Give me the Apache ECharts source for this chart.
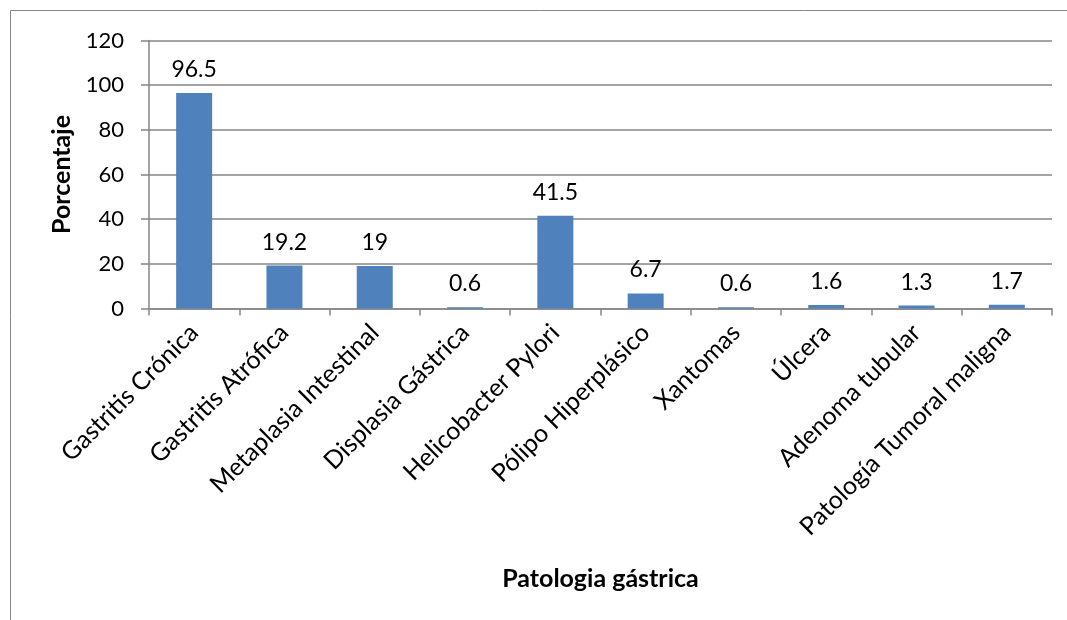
<!DOCTYPE html>
<html>
<head>
<meta charset="utf-8">
<script src="https://cdn.jsdelivr.net/npm/echarts@6/dist/echarts.min.js"></script>
<style>
  html, body { margin: 0; padding: 0; background: #fff; }
  #chart { width: 1067px; height: 620px; }
</style>
</head>
<body>
<div id="chart"></div>
<script>
// Pathology categories and their percentages
const categories = [
  'Gastritis Crónica', 'Gastritis Atrófica', 'Metaplasia Intestinal',
  'Displasia Gástrica', 'Helicobacter Pylori', 'Pólipo Hiperplásico',
  'Xantomas', 'Úlcera', 'Adenoma tubular', 'Patología Tumoral maligna'
];
const percentages = [96.5, 19.2, 19, 0.6, 41.5, 6.7, 0.6, 1.6, 1.3, 1.7];
const yTicks = { min: 0, max: 120, step: 20 };

const FONT = 'Lato, "Open Sans", sans-serif';
const AXIS_GRAY = '#868686';

const chart = echarts.init(document.getElementById('chart'), null, { renderer: 'canvas' });
chart.setOption({
  animation: false,
  backgroundColor: '#ffffff',
  graphic: [{
    type: 'rect',
    shape: { x: 10.5, y: 10.5, width: 1200, height: 800 },
    style: { fill: 'none', stroke: AXIS_GRAY, lineWidth: 1 },
    silent: true,
    z: -1
  }],
  grid: { left: 149, right: 15, top: 40.5, bottom: 311.5, containLabel: false },
  xAxis: {
    type: 'category',
    data: categories,
    name: 'Patologia gástrica',
    nameLocation: 'middle',
    nameGap: 258,
    nameTextStyle: { fontFamily: FONT, fontSize: 25, fontWeight: 'bold', color: '#000' },
    axisLine: { lineStyle: { color: AXIS_GRAY, width: 1.5 } },
    axisTick: { show: true, alignWithLabel: false, length: 7, lineStyle: { color: AXIS_GRAY, width: 1.5 } },
    axisLabel: {
      rotate: 45, interval: 0, margin: 20,
      fontFamily: FONT, fontSize: 25, color: '#000'
    }
  },
  yAxis: {
    type: 'value',
    min: yTicks.min, max: yTicks.max, interval: yTicks.step,
    name: 'Porcentaje',
    nameLocation: 'middle',
    nameGap: 72,
    nameRotate: 90,
    nameTextStyle: { fontFamily: FONT, fontSize: 25, fontWeight: 'bold', color: '#000' },
    axisLine: { show: true, lineStyle: { color: AXIS_GRAY, width: 1.5 } },
    axisTick: { show: true, length: 8, lineStyle: { color: AXIS_GRAY, width: 1.5 } },
    axisLabel: { fontFamily: FONT, fontSize: 22, color: '#000', margin: 25 },
    splitLine: { show: true, lineStyle: { color: AXIS_GRAY, width: 1.5 } }
  },
  series: [{
    type: 'bar',
    data: percentages,
    barWidth: 36,
    itemStyle: { color: '#4F81BD' },
    label: {
      show: true,
      position: 'top',
      distance: 12,
      fontFamily: FONT,
      fontSize: 23,
      color: '#000'
    }
  }]
});
</script>
</body>
</html>
